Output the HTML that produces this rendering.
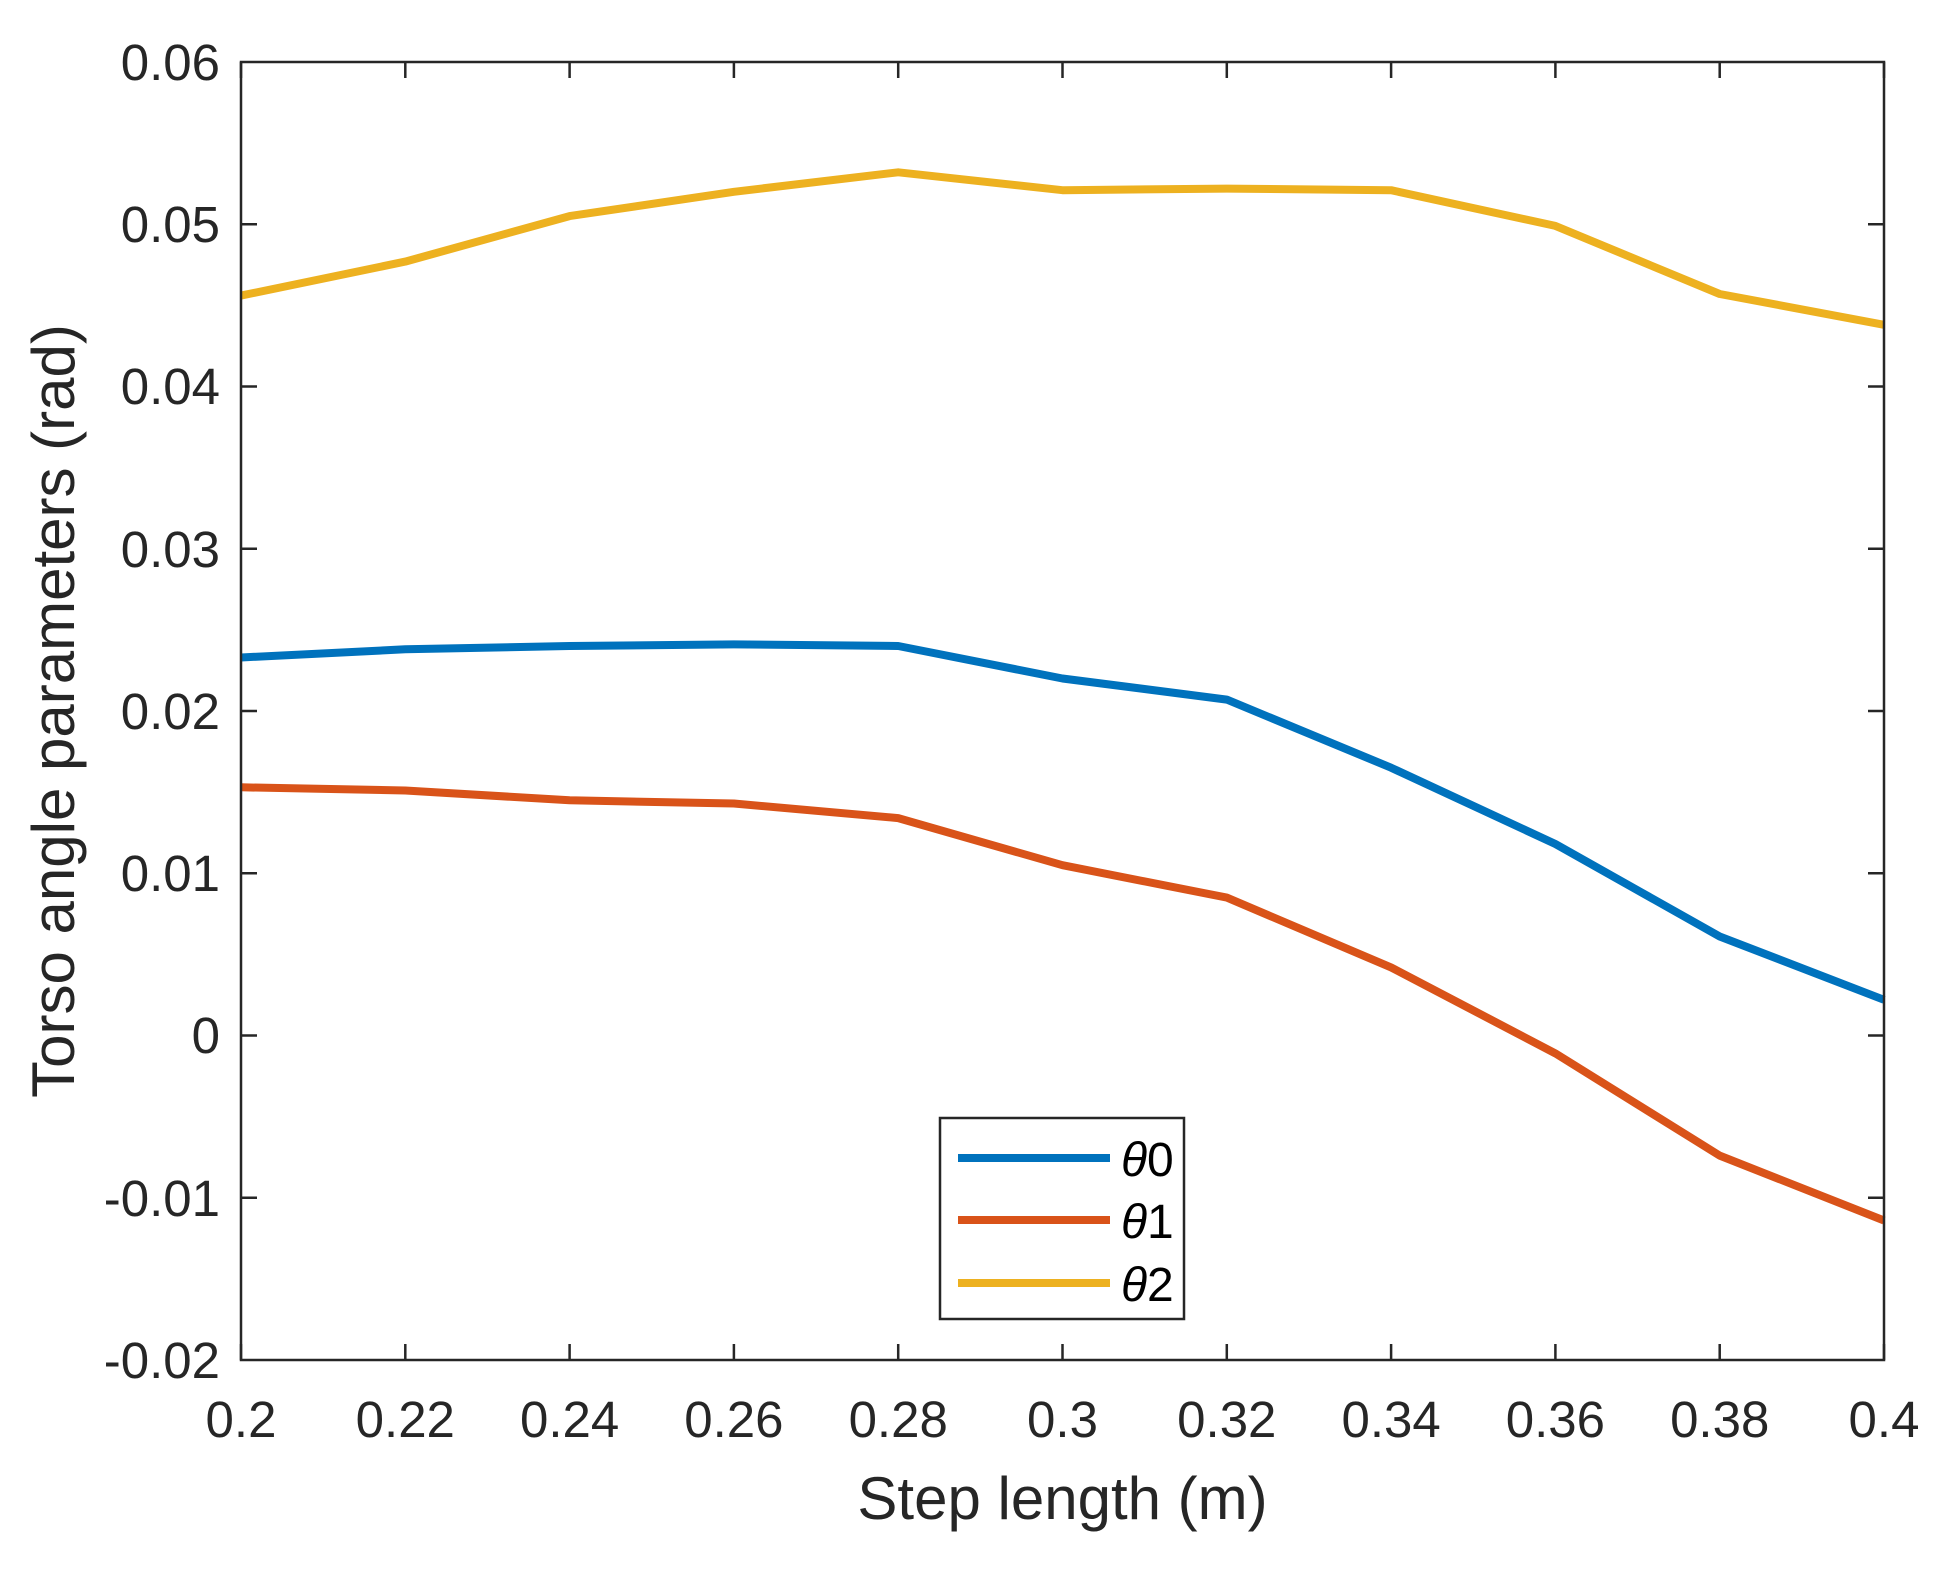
<!DOCTYPE html>
<html><head><style>html,body{margin:0;padding:0;background:#fff;}</style></head>
<body>
<svg width="1960" height="1564" xmlns="http://www.w3.org/2000/svg" font-family="Liberation Sans, Arial, sans-serif">
<rect width="1960" height="1564" fill="#fff"/>
<g stroke="#262626" stroke-width="2.5">
<path d="M241 1360v-16M405.3 1360v-16M569.6 1360v-16M733.9 1360v-16M898.2 1360v-16M1062.5 1360v-16M1226.8 1360v-16M1391.1 1360v-16M1555.4 1360v-16M1719.7 1360v-16M1884 1360v-16"/>
<path d="M241 62v16M405.3 62v16M569.6 62v16M733.9 62v16M898.2 62v16M1062.5 62v16M1226.8 62v16M1391.1 62v16M1555.4 62v16M1719.7 62v16M1884 62v16"/>
<path d="M241 224.25h16M241 386.5h16M241 548.75h16M241 711h16M241 873.25h16M241 1035.5h16M241 1197.75h16"/>
<path d="M1884 224.25h-16M1884 386.5h-16M1884 548.75h-16M1884 711h-16M1884 873.25h-16M1884 1035.5h-16M1884 1197.75h-16"/>
</g>
<g font-size="51" fill="#262626" text-anchor="middle">
<text x="241" y="1437">0.2</text><text x="405.3" y="1437">0.22</text><text x="569.6" y="1437">0.24</text><text x="733.9" y="1437">0.26</text><text x="898.2" y="1437">0.28</text><text x="1062.5" y="1437">0.3</text><text x="1226.8" y="1437">0.32</text><text x="1391.1" y="1437">0.34</text><text x="1555.4" y="1437">0.36</text><text x="1719.7" y="1437">0.38</text><text x="1884" y="1437">0.4</text>
</g>
<g font-size="51" fill="#262626" text-anchor="end">
<text x="220" y="80">0.06</text><text x="220" y="242">0.05</text><text x="220" y="404">0.04</text><text x="220" y="567">0.03</text><text x="220" y="729">0.02</text><text x="220" y="891">0.01</text><text x="220" y="1053">0</text><text x="220" y="1216">-0.01</text><text x="220" y="1378">-0.02</text>
</g>
<g fill="none" stroke-width="8" stroke-linejoin="round">
<polyline stroke="#0072BD" points="241,657.5 405.3,649.3 569.6,646 733.9,644.4 898.2,646 1062.5,678.5 1226.8,699.6 1391.1,767.7 1555.4,844 1719.7,936.5 1884,999.8"/>
<polyline stroke="#D95319" points="241,787.3 405.3,790.5 569.6,800.3 733.9,803.5 898.2,818.1 1062.5,865.2 1226.8,897.6 1391.1,967.4 1555.4,1053.4 1719.7,1155.6 1884,1220.5"/>
<polyline stroke="#EDB120" points="241,295.6 405.3,261.6 569.6,216.1 733.9,191.8 898.2,172.3 1062.5,190.2 1226.8,188.6 1391.1,190.2 1555.4,225.9 1719.7,294 1884,324.8"/>
</g>
<rect x="241" y="62" width="1643" height="1298" fill="none" stroke="#262626" stroke-width="2.5"/>
<text x="1062.5" y="1519" font-size="60" text-anchor="middle" fill="#262626">Step length (m)</text>
<text transform="translate(74,711) rotate(-90)" font-size="60" text-anchor="middle" fill="#262626">Torso angle parameters (rad)</text>
<rect x="940" y="1118" width="244" height="201" fill="#fff" stroke="#262626" stroke-width="2.5"/>
<line x1="958" y1="1158" x2="1110" y2="1158" stroke="#0072BD" stroke-width="8"/>
<line x1="958" y1="1220" x2="1110" y2="1220" stroke="#D95319" stroke-width="8"/>
<line x1="958" y1="1283" x2="1110" y2="1283" stroke="#EDB120" stroke-width="8"/>
<g font-size="48" fill="#000">
<text x="1121" y="1176"><tspan font-style="italic">θ</tspan>0</text>
<text x="1121" y="1238"><tspan font-style="italic">θ</tspan>1</text>
<text x="1121" y="1301"><tspan font-style="italic">θ</tspan>2</text>
</g>
</svg>
</body></html>
